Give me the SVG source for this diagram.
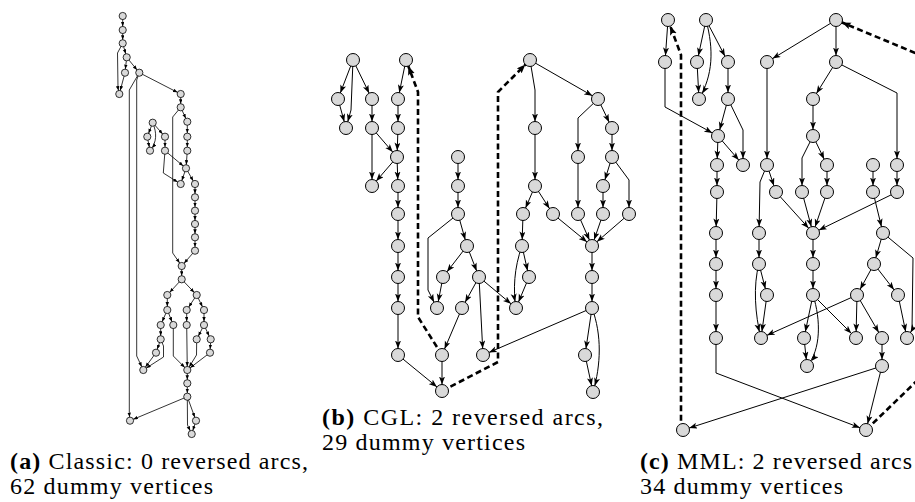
<svg xmlns="http://www.w3.org/2000/svg" width="915" height="502" viewBox="0 0 915 502">
<style>
.na{fill:#d9d9d9;stroke:#000;stroke-width:0.8}
.nb{fill:#d9d9d9;stroke:#000;stroke-width:1}
.ea{fill:none;stroke:#000;stroke-width:0.8;marker-end:url(#arrA)}
.eb{fill:none;stroke:#000;stroke-width:1;marker-end:url(#arrB)}
.rev{fill:none;stroke:#000;stroke-width:2.6;stroke-dasharray:6,3.5;marker-end:url(#arrR)}
.cap{font-family:"Liberation Serif","Times New Roman",serif;font-size:24px;fill:#000}
.bold{font-weight:bold}
</style>
<defs>
<marker id="arrA" markerUnits="userSpaceOnUse" markerWidth="6" markerHeight="4" refX="8.1" refY="1.75" orient="auto"><path d="M0,0 L4.5,1.75 L0,3.5 z" fill="#000"/></marker>
<marker id="arrB" markerUnits="userSpaceOnUse" markerWidth="9" markerHeight="7" refX="14.5" refY="3" orient="auto"><path d="M0,0 L8,3 L0,6 L2,3 z" fill="#000"/></marker>
<marker id="arrR" markerUnits="userSpaceOnUse" markerWidth="11" markerHeight="8" refX="15.5" refY="3.5" orient="auto"><path d="M0,0 L9,3.5 L0,7 L2,3.5 z" fill="#000"/></marker>
</defs>

<!-- Panel (a) connectors -->
<g id="connectors-a">
<line class="ea" x1="122.7" y1="16" x2="122.7" y2="30"/>
<line class="ea" x1="122.7" y1="30" x2="122.7" y2="43.3"/>
<line class="ea" x1="122.7" y1="43.3" x2="126.7" y2="57.3"/>
<path class="ea" d="M122.7,43.3 L117.5,53 L118,88 L119.3,94"/>
<line class="ea" x1="126.7" y1="57.3" x2="125" y2="72.7"/>
<line class="ea" x1="126.7" y1="57.3" x2="139.3" y2="72.7"/>
<line class="ea" x1="125" y1="72.7" x2="119.3" y2="94"/>
<line class="ea" x1="139.3" y1="72.7" x2="180.7" y2="94"/>
<path class="ea" d="M139.3,72.7 L129.3,90 L129.3,414 L130,420.7"/>
<path class="ea" d="M139.3,72.7 L136.7,80 L136.7,356 L143.3,370"/>
<line class="ea" x1="180.7" y1="94" x2="180.7" y2="107.3"/>
<line class="ea" x1="180.7" y1="107.3" x2="187.3" y2="121.7"/>
<path class="ea" d="M180.7,107.3 L172.7,117 L172.7,253 L181.7,266"/>
<line class="ea" x1="187.3" y1="121.7" x2="187.3" y2="136.7"/>
<line class="ea" x1="187.3" y1="136.7" x2="187.3" y2="150.7"/>
<line class="ea" x1="187.3" y1="150.7" x2="186" y2="168.3"/>
<line class="ea" x1="152.7" y1="122.7" x2="147.3" y2="136.7"/>
<line class="ea" x1="152.7" y1="122.7" x2="165" y2="136.7"/>
<path class="ea" d="M152.7,122.7 C157,133 157,142 150,150.7"/>
<line class="ea" x1="147.3" y1="136.7" x2="150" y2="150.7"/>
<line class="ea" x1="165" y1="136.7" x2="165" y2="150.7"/>
<line class="ea" x1="165" y1="150.7" x2="186" y2="168.3"/>
<path class="ea" d="M165,150.7 L163.3,173 L180.7,184"/>
<line class="ea" x1="186" y1="168.3" x2="180.7" y2="184"/>
<line class="ea" x1="186" y1="168.3" x2="195" y2="184"/>
<line class="ea" x1="195" y1="184" x2="195" y2="197.3"/>
<line class="ea" x1="195" y1="197.3" x2="195" y2="210.7"/>
<line class="ea" x1="195" y1="210.7" x2="195" y2="224"/>
<line class="ea" x1="195" y1="224" x2="195" y2="237.3"/>
<line class="ea" x1="195" y1="237.3" x2="195" y2="250.7"/>
<line class="ea" x1="195" y1="250.7" x2="181.7" y2="266"/>
<line class="ea" x1="181.7" y1="266" x2="181.7" y2="279.3"/>
<line class="ea" x1="181.7" y1="279.3" x2="167.3" y2="295"/>
<line class="ea" x1="181.7" y1="279.3" x2="196.7" y2="295"/>
<line class="ea" x1="167.3" y1="295" x2="167.3" y2="310"/>
<line class="ea" x1="167.3" y1="310" x2="160.7" y2="325"/>
<line class="ea" x1="167.3" y1="310" x2="173.3" y2="325"/>
<line class="ea" x1="160.7" y1="325" x2="160.7" y2="339.3"/>
<line class="ea" x1="160.7" y1="339.3" x2="156" y2="352.7"/>
<line class="ea" x1="156" y1="352.7" x2="143.3" y2="370"/>
<path class="ea" d="M160.7,339.3 L163.5,346 L163.5,357 L143.3,370"/>
<path class="ea" d="M173.3,325 L173.3,356 L187.3,370"/>
<line class="ea" x1="196.7" y1="295" x2="186.7" y2="310"/>
<line class="ea" x1="196.7" y1="295" x2="204" y2="310"/>
<line class="ea" x1="186.7" y1="310" x2="186.7" y2="325"/>
<line class="ea" x1="186.7" y1="325" x2="187.3" y2="370"/>
<line class="ea" x1="204" y1="310" x2="204" y2="325"/>
<line class="ea" x1="204" y1="325" x2="196.7" y2="339.3"/>
<line class="ea" x1="204" y1="325" x2="210.7" y2="339.3"/>
<path class="ea" d="M196.7,339.3 L196.5,355 L187.3,370"/>
<line class="ea" x1="210.7" y1="339.3" x2="210" y2="352.7"/>
<line class="ea" x1="210" y1="352.7" x2="187.3" y2="370"/>
<line class="ea" x1="187.3" y1="370" x2="187.3" y2="383.3"/>
<line class="ea" x1="187.3" y1="383.3" x2="187.3" y2="396.7"/>
<line class="ea" x1="187.3" y1="396.7" x2="130" y2="420.7"/>
<line class="ea" x1="187.3" y1="396.7" x2="196" y2="420.7"/>
<path class="ea" d="M187.3,396.7 L187.5,425 L191.7,434"/>
<line class="ea" x1="196" y1="420.7" x2="191.7" y2="434"/>
</g>

<!-- Panel (a) nodes -->
<g id="a1"><circle class="na" cx="122.7" cy="16" r="3.6"/></g>
<g id="a2"><circle class="na" cx="122.7" cy="30" r="3.6"/></g>
<g id="a3"><circle class="na" cx="122.7" cy="43.3" r="3.6"/></g>
<g id="a4"><circle class="na" cx="126.7" cy="57.3" r="3.6"/></g>
<g id="a5"><circle class="na" cx="125" cy="72.7" r="3.6"/></g>
<g id="a6"><circle class="na" cx="139.3" cy="72.7" r="3.6"/></g>
<g id="a7"><circle class="na" cx="119.3" cy="94" r="3.6"/></g>
<g id="a8"><circle class="na" cx="180.7" cy="94" r="3.6"/></g>
<g id="a9"><circle class="na" cx="180.7" cy="107.3" r="3.6"/></g>
<g id="a10"><circle class="na" cx="152.7" cy="122.7" r="3.6"/></g>
<g id="a11"><circle class="na" cx="187.3" cy="121.7" r="3.6"/></g>
<g id="a12"><circle class="na" cx="147.3" cy="136.7" r="3.6"/></g>
<g id="a13"><circle class="na" cx="165" cy="136.7" r="3.6"/></g>
<g id="a14"><circle class="na" cx="187.3" cy="136.7" r="3.6"/></g>
<g id="a15"><circle class="na" cx="150" cy="150.7" r="3.6"/></g>
<g id="a16"><circle class="na" cx="165" cy="150.7" r="3.6"/></g>
<g id="a17"><circle class="na" cx="187.3" cy="150.7" r="3.6"/></g>
<g id="a18"><circle class="na" cx="186" cy="168.3" r="3.6"/></g>
<g id="a19"><circle class="na" cx="180.7" cy="184" r="3.6"/></g>
<g id="a20"><circle class="na" cx="195" cy="184" r="3.6"/></g>
<g id="a21"><circle class="na" cx="195" cy="197.3" r="3.6"/></g>
<g id="a22"><circle class="na" cx="195" cy="210.7" r="3.6"/></g>
<g id="a23"><circle class="na" cx="195" cy="224" r="3.6"/></g>
<g id="a24"><circle class="na" cx="195" cy="237.3" r="3.6"/></g>
<g id="a25"><circle class="na" cx="195" cy="250.7" r="3.6"/></g>
<g id="a26"><circle class="na" cx="181.7" cy="266" r="3.6"/></g>
<g id="a27"><circle class="na" cx="181.7" cy="279.3" r="3.6"/></g>
<g id="a28"><circle class="na" cx="167.3" cy="295" r="3.6"/></g>
<g id="a29"><circle class="na" cx="196.7" cy="295" r="3.6"/></g>
<g id="a30"><circle class="na" cx="167.3" cy="310" r="3.6"/></g>
<g id="a31"><circle class="na" cx="186.7" cy="310" r="3.6"/></g>
<g id="a32"><circle class="na" cx="204" cy="310" r="3.6"/></g>
<g id="a33"><circle class="na" cx="160.7" cy="325" r="3.6"/></g>
<g id="a34"><circle class="na" cx="173.3" cy="325" r="3.6"/></g>
<g id="a35"><circle class="na" cx="186.7" cy="325" r="3.6"/></g>
<g id="a36"><circle class="na" cx="204" cy="325" r="3.6"/></g>
<g id="a37"><circle class="na" cx="160.7" cy="339.3" r="3.6"/></g>
<g id="a38"><circle class="na" cx="196.7" cy="339.3" r="3.6"/></g>
<g id="a39"><circle class="na" cx="210.7" cy="339.3" r="3.6"/></g>
<g id="a40"><circle class="na" cx="156" cy="352.7" r="3.6"/></g>
<g id="a41"><circle class="na" cx="210" cy="352.7" r="3.6"/></g>
<g id="a42"><circle class="na" cx="143.3" cy="370" r="3.6"/></g>
<g id="a43"><circle class="na" cx="187.3" cy="370" r="3.6"/></g>
<g id="a44"><circle class="na" cx="187.3" cy="383.3" r="3.6"/></g>
<g id="a45"><circle class="na" cx="187.3" cy="396.7" r="3.6"/></g>
<g id="a46"><circle class="na" cx="130" cy="420.7" r="3.6"/></g>
<g id="a47"><circle class="na" cx="196" cy="420.7" r="3.6"/></g>
<g id="a48"><circle class="na" cx="191.7" cy="434" r="3.6"/></g>

<!-- Panel (b) connectors -->
<g id="connectors-b">
<line class="eb" x1="353" y1="60" x2="338" y2="99"/>
<path class="eb" d="M353,60 L351,110 L346,128"/>
<line class="eb" x1="353" y1="60" x2="372" y2="99"/>
<line class="eb" x1="338" y1="99" x2="346" y2="128"/>
<line class="eb" x1="372" y1="99" x2="372" y2="128"/>
<line class="eb" x1="372" y1="128" x2="397" y2="157"/>
<line class="eb" x1="372" y1="128" x2="372" y2="186"/>
<line class="eb" x1="406" y1="60" x2="398" y2="99"/>
<line class="eb" x1="398" y1="99" x2="398" y2="128"/>
<line class="eb" x1="398" y1="128" x2="397" y2="157"/>
<line class="eb" x1="397" y1="157" x2="372" y2="186"/>
<line class="eb" x1="397" y1="157" x2="398" y2="186"/>
<line class="eb" x1="398" y1="186" x2="398" y2="214"/>
<line class="eb" x1="398" y1="214" x2="398" y2="246"/>
<line class="eb" x1="398" y1="246" x2="398" y2="277"/>
<line class="eb" x1="398" y1="277" x2="398" y2="308"/>
<line class="eb" x1="398" y1="308" x2="398" y2="355"/>
<line class="eb" x1="398" y1="355" x2="442" y2="391"/>
<line class="eb" x1="458" y1="157" x2="458" y2="186"/>
<line class="eb" x1="458" y1="186" x2="458" y2="214"/>
<line class="eb" x1="458" y1="214" x2="467" y2="246"/>
<path class="eb" d="M458,214 L428,238 L428,290 L437,308"/>
<line class="eb" x1="467" y1="246" x2="443" y2="277"/>
<line class="eb" x1="467" y1="246" x2="479" y2="277"/>
<line class="eb" x1="443" y1="277" x2="437" y2="308"/>
<line class="eb" x1="479" y1="277" x2="462" y2="308"/>
<line class="eb" x1="479" y1="277" x2="483" y2="355"/>
<line class="eb" x1="479" y1="277" x2="516" y2="308"/>
<line class="eb" x1="462" y1="308" x2="442" y2="355"/>
<line class="eb" x1="442" y1="355" x2="442" y2="391"/>
<path class="eb" d="M530,60 L535,90 L535,128"/>
<line class="eb" x1="530" y1="60" x2="598" y2="99"/>
<line class="eb" x1="535" y1="128" x2="535" y2="186"/>
<line class="eb" x1="535" y1="186" x2="523" y2="214"/>
<line class="eb" x1="535" y1="186" x2="553" y2="214"/>
<line class="eb" x1="523" y1="214" x2="522" y2="246"/>
<line class="eb" x1="553" y1="214" x2="592" y2="246"/>
<line class="eb" x1="598" y1="99" x2="612" y2="128"/>
<path class="eb" d="M598,99 L578,118 L578,157"/>
<line class="eb" x1="612" y1="128" x2="612" y2="157"/>
<line class="eb" x1="612" y1="157" x2="603" y2="186"/>
<path class="eb" d="M612,157 L629,180 L629,214"/>
<line class="eb" x1="578" y1="157" x2="578" y2="214"/>
<line class="eb" x1="603" y1="186" x2="603" y2="214"/>
<line class="eb" x1="578" y1="214" x2="592" y2="246"/>
<line class="eb" x1="603" y1="214" x2="592" y2="246"/>
<line class="eb" x1="629" y1="214" x2="592" y2="246"/>
<line class="eb" x1="522" y1="246" x2="529" y2="277"/>
<path class="eb" d="M522,246 C514,268 513,290 516,308"/>
<line class="eb" x1="529" y1="277" x2="516" y2="308"/>
<line class="eb" x1="592" y1="246" x2="592" y2="277"/>
<line class="eb" x1="592" y1="277" x2="592" y2="308"/>
<line class="eb" x1="592" y1="308" x2="483" y2="355"/>
<line class="eb" x1="592" y1="308" x2="585" y2="355"/>
<path class="eb" d="M592,308 C602,335 601,365 593,392"/>
<line class="eb" x1="585" y1="355" x2="593" y2="392"/>
<path class="rev" d="M442,355 L418,317 L418,92 L406,60"/>
<path class="rev" d="M442,391 L498,362 L498,92 L530,60"/>
</g>

<!-- Panel (b) nodes -->
<g id="b1"><circle class="nb" cx="353" cy="60" r="6.5"/></g>
<g id="b2"><circle class="nb" cx="406" cy="60" r="6.5"/></g>
<g id="b3"><circle class="nb" cx="338" cy="99" r="6.5"/></g>
<g id="b4"><circle class="nb" cx="372" cy="99" r="6.5"/></g>
<g id="b5"><circle class="nb" cx="398" cy="99" r="6.5"/></g>
<g id="b6"><circle class="nb" cx="346" cy="128" r="6.5"/></g>
<g id="b7"><circle class="nb" cx="372" cy="128" r="6.5"/></g>
<g id="b8"><circle class="nb" cx="398" cy="128" r="6.5"/></g>
<g id="b9"><circle class="nb" cx="397" cy="157" r="6.5"/></g>
<g id="b10"><circle class="nb" cx="372" cy="186" r="6.5"/></g>
<g id="b11"><circle class="nb" cx="398" cy="186" r="6.5"/></g>
<g id="b12"><circle class="nb" cx="398" cy="214" r="6.5"/></g>
<g id="b13"><circle class="nb" cx="398" cy="246" r="6.5"/></g>
<g id="b14"><circle class="nb" cx="398" cy="277" r="6.5"/></g>
<g id="b15"><circle class="nb" cx="398" cy="308" r="6.5"/></g>
<g id="b16"><circle class="nb" cx="398" cy="355" r="6.5"/></g>
<g id="b17"><circle class="nb" cx="442" cy="391" r="6.5"/></g>
<g id="b18"><circle class="nb" cx="458" cy="157" r="6.5"/></g>
<g id="b19"><circle class="nb" cx="458" cy="186" r="6.5"/></g>
<g id="b20"><circle class="nb" cx="458" cy="214" r="6.5"/></g>
<g id="b21"><circle class="nb" cx="467" cy="246" r="6.5"/></g>
<g id="b22"><circle class="nb" cx="443" cy="277" r="6.5"/></g>
<g id="b23"><circle class="nb" cx="479" cy="277" r="6.5"/></g>
<g id="b24"><circle class="nb" cx="437" cy="308" r="6.5"/></g>
<g id="b25"><circle class="nb" cx="462" cy="308" r="6.5"/></g>
<g id="b26"><circle class="nb" cx="442" cy="355" r="6.5"/></g>
<g id="b27"><circle class="nb" cx="483" cy="355" r="6.5"/></g>
<g id="b28"><circle class="nb" cx="530" cy="60" r="6.5"/></g>
<g id="b29"><circle class="nb" cx="598" cy="99" r="6.5"/></g>
<g id="b30"><circle class="nb" cx="535" cy="128" r="6.5"/></g>
<g id="b31"><circle class="nb" cx="612" cy="128" r="6.5"/></g>
<g id="b32"><circle class="nb" cx="578" cy="157" r="6.5"/></g>
<g id="b33"><circle class="nb" cx="612" cy="157" r="6.5"/></g>
<g id="b34"><circle class="nb" cx="535" cy="186" r="6.5"/></g>
<g id="b35"><circle class="nb" cx="603" cy="186" r="6.5"/></g>
<g id="b36"><circle class="nb" cx="523" cy="214" r="6.5"/></g>
<g id="b37"><circle class="nb" cx="553" cy="214" r="6.5"/></g>
<g id="b38"><circle class="nb" cx="578" cy="214" r="6.5"/></g>
<g id="b39"><circle class="nb" cx="603" cy="214" r="6.5"/></g>
<g id="b40"><circle class="nb" cx="629" cy="214" r="6.5"/></g>
<g id="b41"><circle class="nb" cx="522" cy="246" r="6.5"/></g>
<g id="b42"><circle class="nb" cx="592" cy="246" r="6.5"/></g>
<g id="b43"><circle class="nb" cx="529" cy="277" r="6.5"/></g>
<g id="b44"><circle class="nb" cx="592" cy="277" r="6.5"/></g>
<g id="b45"><circle class="nb" cx="516" cy="308" r="6.5"/></g>
<g id="b46"><circle class="nb" cx="592" cy="308" r="6.5"/></g>
<g id="b47"><circle class="nb" cx="585" cy="355" r="6.5"/></g>
<g id="b48"><circle class="nb" cx="593" cy="392" r="6.5"/></g>

<!-- Panel (c) connectors -->
<g id="connectors-c">
<line class="eb" x1="668" y1="20" x2="665" y2="62"/>
<path class="eb" d="M665,62 L665,107 L718,136"/>
<line class="eb" x1="706" y1="20" x2="697" y2="62"/>
<path class="eb" d="M706,20 C714,50 713,75 699,99"/>
<line class="eb" x1="706" y1="20" x2="728" y2="62"/>
<line class="eb" x1="697" y1="62" x2="699" y2="99"/>
<line class="eb" x1="728" y1="62" x2="728" y2="99"/>
<line class="eb" x1="728" y1="99" x2="718" y2="136"/>
<path class="eb" d="M728,99 L743,130 L743,165"/>
<line class="eb" x1="718" y1="136" x2="717" y2="165"/>
<line class="eb" x1="718" y1="136" x2="743" y2="165"/>
<line class="eb" x1="717" y1="165" x2="717" y2="192"/>
<line class="eb" x1="717" y1="192" x2="716" y2="233"/>
<line class="eb" x1="716" y1="233" x2="716" y2="264"/>
<line class="eb" x1="716" y1="264" x2="716" y2="295"/>
<line class="eb" x1="716" y1="295" x2="716" y2="338"/>
<path class="eb" d="M716,338 L716,373 L866,430"/>
<line class="eb" x1="836" y1="20" x2="767" y2="62"/>
<line class="eb" x1="836" y1="20" x2="836" y2="62"/>
<line class="eb" x1="767" y1="62" x2="767" y2="165"/>
<line class="eb" x1="767" y1="165" x2="776" y2="192"/>
<path class="eb" d="M767,165 L760,182 L759,233"/>
<line class="eb" x1="776" y1="192" x2="813" y2="233"/>
<line class="eb" x1="836" y1="62" x2="813" y2="99"/>
<path class="eb" d="M836,62 L897,93 L897,165"/>
<line class="eb" x1="813" y1="99" x2="813" y2="136"/>
<path class="eb" d="M813,136 L802,158 L802,192"/>
<line class="eb" x1="813" y1="136" x2="827" y2="165"/>
<line class="eb" x1="827" y1="165" x2="827" y2="192"/>
<line class="eb" x1="873" y1="165" x2="873" y2="192"/>
<line class="eb" x1="897" y1="165" x2="897" y2="192"/>
<line class="eb" x1="802" y1="192" x2="813" y2="233"/>
<line class="eb" x1="827" y1="192" x2="813" y2="233"/>
<line class="eb" x1="897" y1="192" x2="813" y2="233"/>
<line class="eb" x1="873" y1="192" x2="883" y2="233"/>
<line class="eb" x1="759" y1="233" x2="759" y2="264"/>
<line class="eb" x1="759" y1="264" x2="767" y2="295"/>
<path class="eb" d="M759,264 C753,285 755,315 761,338"/>
<line class="eb" x1="767" y1="295" x2="761" y2="338"/>
<line class="eb" x1="857" y1="295" x2="761" y2="338"/>
<line class="eb" x1="813" y1="233" x2="813" y2="264"/>
<line class="eb" x1="813" y1="264" x2="813" y2="295"/>
<line class="eb" x1="813" y1="295" x2="804" y2="338"/>
<path class="eb" d="M813,295 C821,320 821,350 807,366"/>
<line class="eb" x1="813" y1="295" x2="856" y2="338"/>
<line class="eb" x1="804" y1="338" x2="807" y2="366"/>
<line class="eb" x1="883" y1="233" x2="874" y2="264"/>
<path class="eb" d="M883,233 L913,258 L912,330 L907,338"/>
<line class="eb" x1="874" y1="264" x2="857" y2="295"/>
<line class="eb" x1="874" y1="264" x2="898" y2="295"/>
<line class="eb" x1="898" y1="295" x2="907" y2="338"/>
<line class="eb" x1="857" y1="295" x2="856" y2="338"/>
<line class="eb" x1="857" y1="295" x2="882" y2="338"/>
<line class="eb" x1="882" y1="338" x2="882" y2="366"/>
<line class="eb" x1="882" y1="366" x2="866" y2="430"/>
<line class="eb" x1="882" y1="366" x2="683" y2="430"/>
<path class="rev" d="M683,430 L681,422 L681,55 L668,20"/>
<path class="rev" d="M866,430 L925,373 L925,57 L836,20"/>
</g>

<!-- Panel (c) nodes -->
<g id="c1"><circle class="nb" cx="668" cy="20" r="6.5"/></g>
<g id="c2"><circle class="nb" cx="706" cy="20" r="6.5"/></g>
<g id="c3"><circle class="nb" cx="836" cy="20" r="6.5"/></g>
<g id="c4"><circle class="nb" cx="665" cy="62" r="6.5"/></g>
<g id="c5"><circle class="nb" cx="697" cy="62" r="6.5"/></g>
<g id="c6"><circle class="nb" cx="728" cy="62" r="6.5"/></g>
<g id="c7"><circle class="nb" cx="767" cy="62" r="6.5"/></g>
<g id="c8"><circle class="nb" cx="836" cy="62" r="6.5"/></g>
<g id="c9"><circle class="nb" cx="699" cy="99" r="6.5"/></g>
<g id="c10"><circle class="nb" cx="728" cy="99" r="6.5"/></g>
<g id="c11"><circle class="nb" cx="813" cy="99" r="6.5"/></g>
<g id="c12"><circle class="nb" cx="718" cy="136" r="6.5"/></g>
<g id="c13"><circle class="nb" cx="813" cy="136" r="6.5"/></g>
<g id="c14"><circle class="nb" cx="717" cy="165" r="6.5"/></g>
<g id="c15"><circle class="nb" cx="743" cy="165" r="6.5"/></g>
<g id="c16"><circle class="nb" cx="767" cy="165" r="6.5"/></g>
<g id="c17"><circle class="nb" cx="827" cy="165" r="6.5"/></g>
<g id="c18"><circle class="nb" cx="873" cy="165" r="6.5"/></g>
<g id="c19"><circle class="nb" cx="897" cy="165" r="6.5"/></g>
<g id="c20"><circle class="nb" cx="717" cy="192" r="6.5"/></g>
<g id="c21"><circle class="nb" cx="776" cy="192" r="6.5"/></g>
<g id="c22"><circle class="nb" cx="802" cy="192" r="6.5"/></g>
<g id="c23"><circle class="nb" cx="827" cy="192" r="6.5"/></g>
<g id="c24"><circle class="nb" cx="873" cy="192" r="6.5"/></g>
<g id="c25"><circle class="nb" cx="897" cy="192" r="6.5"/></g>
<g id="c26"><circle class="nb" cx="716" cy="233" r="6.5"/></g>
<g id="c27"><circle class="nb" cx="759" cy="233" r="6.5"/></g>
<g id="c28"><circle class="nb" cx="813" cy="233" r="6.5"/></g>
<g id="c29"><circle class="nb" cx="883" cy="233" r="6.5"/></g>
<g id="c30"><circle class="nb" cx="716" cy="264" r="6.5"/></g>
<g id="c31"><circle class="nb" cx="759" cy="264" r="6.5"/></g>
<g id="c32"><circle class="nb" cx="813" cy="264" r="6.5"/></g>
<g id="c33"><circle class="nb" cx="874" cy="264" r="6.5"/></g>
<g id="c34"><circle class="nb" cx="716" cy="295" r="6.5"/></g>
<g id="c35"><circle class="nb" cx="767" cy="295" r="6.5"/></g>
<g id="c36"><circle class="nb" cx="813" cy="295" r="6.5"/></g>
<g id="c37"><circle class="nb" cx="857" cy="295" r="6.5"/></g>
<g id="c38"><circle class="nb" cx="898" cy="295" r="6.5"/></g>
<g id="c39"><circle class="nb" cx="716" cy="338" r="6.5"/></g>
<g id="c40"><circle class="nb" cx="761" cy="338" r="6.5"/></g>
<g id="c41"><circle class="nb" cx="804" cy="338" r="6.5"/></g>
<g id="c42"><circle class="nb" cx="856" cy="338" r="6.5"/></g>
<g id="c43"><circle class="nb" cx="882" cy="338" r="6.5"/></g>
<g id="c44"><circle class="nb" cx="907" cy="338" r="6.5"/></g>
<g id="c45"><circle class="nb" cx="807" cy="366" r="6.5"/></g>
<g id="c46"><circle class="nb" cx="882" cy="366" r="6.5"/></g>
<g id="c47"><circle class="nb" cx="683" cy="430" r="6.5"/></g>
<g id="c48"><circle class="nb" cx="866" cy="430" r="6.5"/></g>

<!-- Captions -->
<g id="captions">
<text class="cap" x="10" y="469" textLength="298"><tspan class="bold">(a)</tspan> Classic: 0 reversed arcs,</text>
<text class="cap" x="10" y="494" textLength="203">62 dummy vertices</text>
<text class="cap" x="322" y="425" textLength="281"><tspan class="bold">(b)</tspan> CGL: 2 reversed arcs,</text>
<text class="cap" x="322" y="450" textLength="203">29 dummy vertices</text>
<text class="cap" x="640" y="469" textLength="272"><tspan class="bold">(c)</tspan> MML: 2 reversed arcs</text>
<text class="cap" x="640" y="494" textLength="203">34 dummy vertices</text>
</g>
</svg>
